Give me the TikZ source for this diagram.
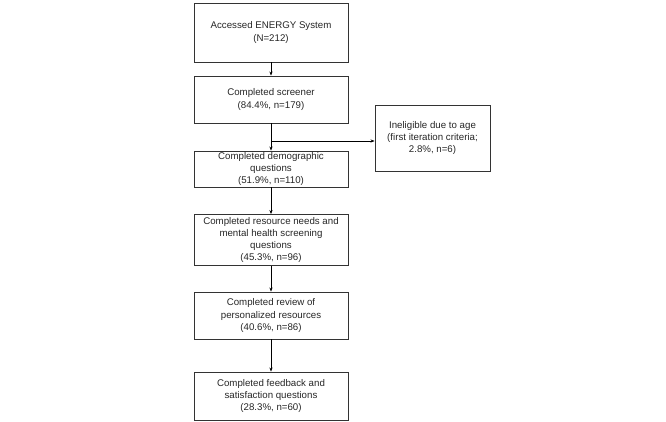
\documentclass[tikz,border=0pt]{standalone}
\usepackage{fontspec}
\setmainfont{Liberation Sans}
\usetikzlibrary{arrows.meta}
\begin{document}
\begin{tikzpicture}[x=1pt,y=-1pt,
  box/.style={draw=black!80, line width=0.9pt, align=center, inner sep=0pt,
    minimum width=154pt, text=black!85,
    font=\fontsize{9.7}{12.3}\selectfont},
  arr/.style={draw=black, line width=0.7pt, -{Stealth[length=4pt,width=3.2pt]}}]
\useasboundingbox (0,0) rectangle (666,422);
\node[box, minimum height=59pt] (b1) at (271,32.5) {Accessed ENERGY System\\(N=212)};
\node[box, minimum height=47pt] (b2) at (271,99.5) {Completed screener\\(84.4\%, n=179)};
\node[box, minimum height=36pt] (b3) at (271,169) {Completed demographic\\questions\\(51.9\%, n=110)};
\node[box, minimum height=51pt] (b4) at (271,240) {Completed resource needs and\\mental health screening\\questions\\(45.3\%, n=96)};
\node[box, minimum height=47pt] (b5) at (271,315.5) {Completed review of\\personalized resources\\(40.6\%, n=86)};
\node[box, minimum height=48pt] (b6) at (271,396) {Completed feedback and\\satisfaction questions\\(28.3\%, n=60)};
\node[box, minimum width=115pt, minimum height=66pt] (ie) at (432.5,138) {Ineligible due to age\\(first iteration criteria;\\2.8\%, n=6)};
\coordinate (br) at (271,141);
\draw[arr] (b1) -- (b2);
\draw[arr] (b2) -- (b3);
\draw[arr] (br) -- (br -| ie.west);
\draw[arr] (b3) -- (b4);
\draw[arr] (b4) -- (b5);
\draw[arr] (b5) -- (b6);
\end{tikzpicture}
\end{document}
